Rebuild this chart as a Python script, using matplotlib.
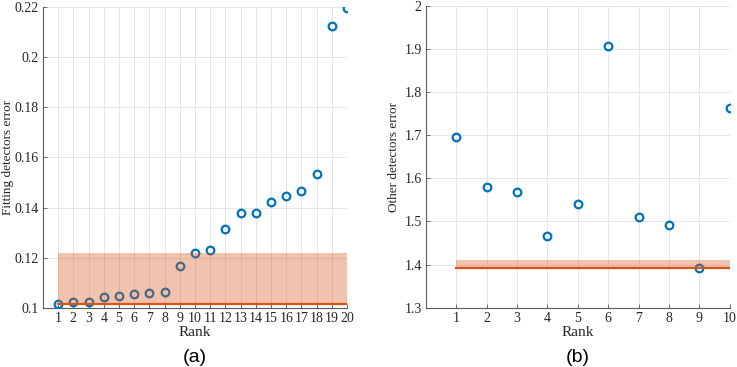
import matplotlib
matplotlib.use("Agg")
import matplotlib.pyplot as plt
import numpy as np

rank_a = list(range(1, 21))
err_a = [0.1016, 0.1021, 0.1021, 0.1043, 0.1047, 0.1056, 0.1057, 0.1061, 0.1168, 0.1218,
         0.1230, 0.1313, 0.1377, 0.1377, 0.1421, 0.1448, 0.1468, 0.1533, 0.2127, 0.2197]
band_a = (0.1016, 0.1218)
yticks_a = [0.1, 0.12, 0.14, 0.16, 0.18, 0.2, 0.22]
yticklabels_a = ["0.1", "0.12", "0.14", "0.16", "0.18", "0.2", "0.22"]

rank_b = list(range(1, 11))
err_b = [1.6956, 1.5797, 1.5682, 1.4661, 1.5403, 1.9067, 1.5102, 1.4909, 1.3912, 1.7636]
band_b = (1.3912, 1.4113)
yticks_b = [1.3, 1.4, 1.5, 1.6, 1.7, 1.8, 1.9, 2.0]
yticklabels_b = ["1.3", "1.4", "1.5", "1.6", "1.7", "1.8", "1.9", "2"]

blue = (0.0, 0.447, 0.741)
orange = (0.85, 0.325, 0.098)
serif = "Liberation Serif"

fig = plt.figure(figsize=(7.37, 3.67), dpi=100)
ax1 = fig.add_axes([0.0583, 0.1616, 0.4125, 0.8185])
ax2 = fig.add_axes([0.578, 0.1616, 0.412, 0.8230])

def style(ax, ranks, errs, band, yt, ytl, xlim, ylim, ylabel, caption, labx):
    ax.plot(ranks, errs, linestyle="none", marker="o", markersize=5.5,
            markerfacecolor="none", markeredgecolor=blue, markeredgewidth=1.6, zorder=3)
    ax.fill_between([ranks[0], ranks[-1]], band[0], band[1], color=orange,
                    alpha=0.35, linewidth=0, zorder=4)
    ax.plot([ranks[0], ranks[-1]], [band[0], band[0]], color=orange, linewidth=1.6, zorder=5)
    ax.set_xlim(*xlim)
    ax.set_ylim(*ylim)
    ax.set_xticks(ranks)
    ax.set_xticklabels([str(r) for r in ranks], fontfamily=serif, fontsize=10)
    ax.set_yticks(yt)
    ax.set_yticklabels(ytl, fontfamily=serif, fontsize=10)
    ax.grid(True, color="#e6e6e6", linewidth=0.7, zorder=0)
    ax.set_axisbelow(True)
    for s in ["top", "right"]:
        ax.spines[s].set_visible(False)
    for s in ["left", "bottom"]:
        ax.spines[s].set_color("#5a5a5a")
        ax.spines[s].set_linewidth(0.8)
    ax.tick_params(direction="in", length=3, width=0.6, color="#5a5a5a", pad=3, labelcolor="#262626")
    ax.set_xlabel("Rank", fontfamily=serif, fontsize=11, color="#262626", labelpad=1)
    ax.set_ylabel(ylabel, fontfamily=serif, fontsize=9.5, color="#262626")
    ax.yaxis.set_label_coords(labx, 0.5)
    ax.text(0.5, -0.165, caption, transform=ax.transAxes, ha="center", va="center",
            fontfamily="Liberation Sans", fontsize=14)

style(ax1, rank_a, err_a, band_a, yticks_a, yticklabels_a, (0, 20), (0.1, 0.22),
      "Fitting detectors error", "(a)", -0.095)
style(ax2, rank_b, err_b, band_b, yticks_b, yticklabels_b, (0, 10), (1.3, 2.0),
      "Other detectors error", "(b)", -0.086)

fig.savefig("out.png", dpi=100)
